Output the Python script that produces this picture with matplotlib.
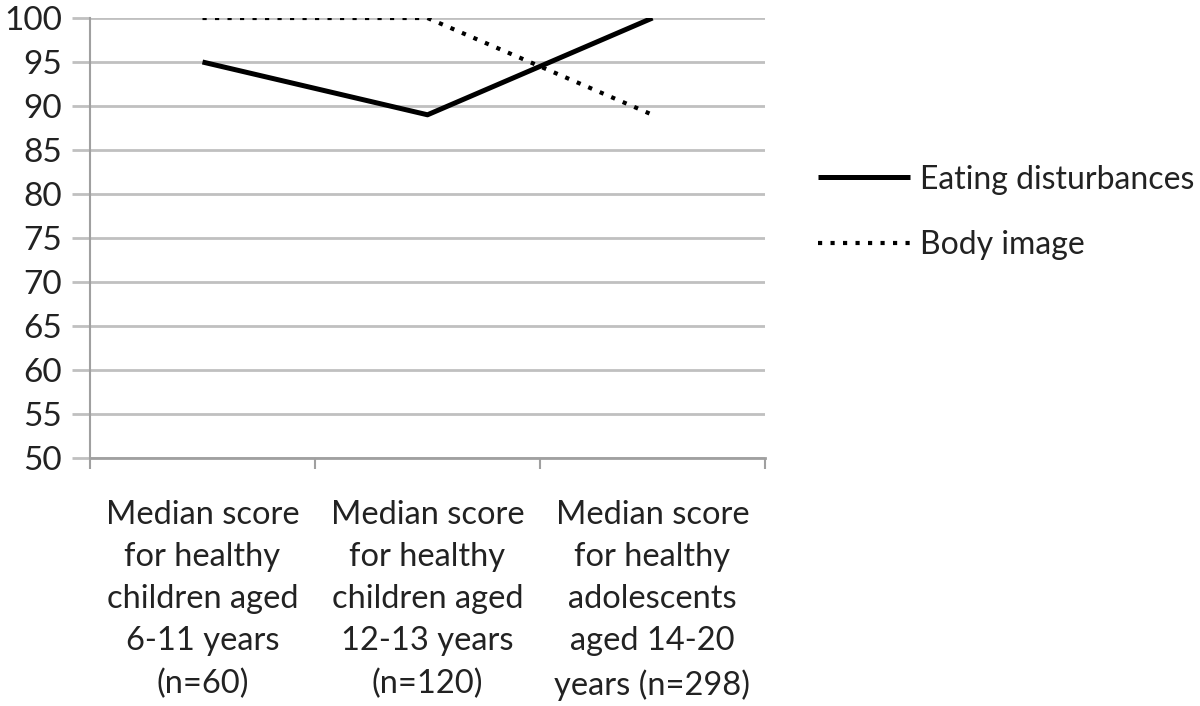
import matplotlib.pyplot as plt

categories = ['Median score\nfor healthy\nchildren aged\n6-11 years\n(n=60)',
              'Median score\nfor healthy\nchildren aged\n12-13 years\n(n=120)',
              'Median score\nfor healthy\nadolescents\naged 14-20\nyears (n=298)']
eating = [95, 89, 100]
body = [100, 100, 89]
yticks = list(range(50, 101, 5))

plt.rcParams['font.family'] = ['Lato', 'DejaVu Sans']

fig = plt.figure(figsize=(12, 7.06), dpi=100)
ax = fig.add_axes([0.075, 0.3513, 0.5625, 0.6232])

x = list(range(len(categories)))
ax.plot(x, eating, color='black', lw=3.6, solid_capstyle='butt', label='Eating disturbances')
ax.plot(x, body, color='black', lw=3, linestyle=(0, (1, 2)), dash_capstyle='butt', label='Body image')

ax.set_xlim(-0.5, len(categories) - 0.5)
ax.set_ylim(50, 100)
ax.set_yticks(yticks)
ax.set_yticklabels([str(v) for v in yticks])
ax.yaxis.grid(True, color='#c0c0c0', lw=2)
ax.set_axisbelow(True)

# boundary ticks at the bottom, labels in the middle of each slot
ax.set_xticks([i - 0.5 for i in range(len(categories) + 1)])
ax.set_xticklabels([])
ax.set_xticks(x, minor=True)
ax.set_xticklabels(categories, minor=True, fontsize=23.5, color='#222222', linespacing=1.51)
ax.tick_params(axis='x', which='minor', length=0, pad=30)
ax.tick_params(axis='x', which='major', length=8, width=1.5, color='#a0a0a0')
ax.tick_params(axis='y', length=13, width=2, color='#c0c0c0', labelsize=24, labelcolor='#222222', pad=7)

for s in ['top', 'right']:
    ax.spines[s].set_visible(False)
ax.spines['left'].set_color('#a0a0a0')
ax.spines['left'].set_linewidth(1.5)
ax.spines['bottom'].set_color('#a0a0a0')
ax.spines['bottom'].set_linewidth(2)

fig.legend(loc='center left', bbox_to_anchor=(0.6575, 0.699), frameon=False,
           fontsize=23, handlelength=2.9, handletextpad=0.3, labelspacing=1.12,
           labelcolor='#222222')

plt.savefig('out.png', dpi=100)
